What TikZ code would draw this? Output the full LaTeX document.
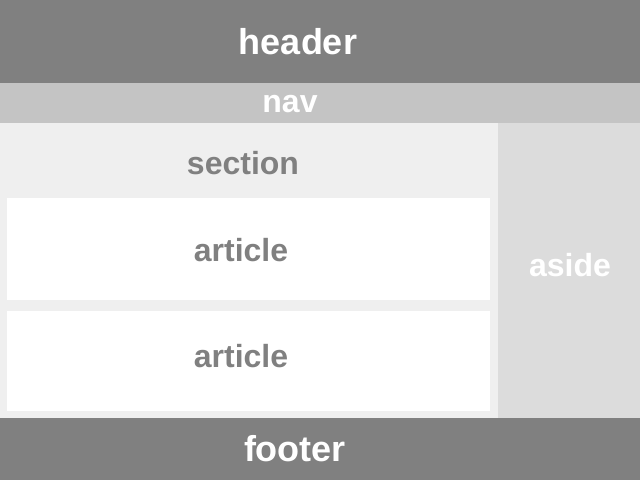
\documentclass[tikz,border=0pt]{standalone}
\usepackage{fontspec}
\setmainfont{Liberation Sans}
\definecolor{bardark}{HTML}{808080}
\definecolor{navgray}{HTML}{C4C4C4}
\definecolor{sectiongray}{HTML}{EFEFEF}
\definecolor{asidegray}{HTML}{DCDCDC}
\begin{document}
\begin{tikzpicture}[x=1pt,y=-1pt,
    bigtxt/.style={anchor=base,inner sep=0pt,text=white,font=\bfseries\fontsize{36}{36}\selectfont},
    smalltxt/.style={anchor=base,inner sep=0pt,text=bardark,font=\bfseries\fontsize{32}{32}\selectfont}]
      \useasboundingbox (0,0) rectangle (640,480);

      % header und nav
      \fill[bardark] (0,0) rectangle (640,83);
      \fill[navgray] (0,83) rectangle (640,123);
      \node[bigtxt] (header) at (298,54) {header};
      \node[smalltxt,text=white] (nav) at (290,112) {nav};

      % section mit zwei article
      \fill[sectiongray] (0,123) rectangle (498,418);
      \node[smalltxt] (section) at (243,174) {section};
      \fill[white] (7,198) rectangle (490,300);
      \node[smalltxt] (article1) at (241,261) {article};
      \fill[white] (7,311) rectangle (490,411);
      \node[smalltxt] (article2) at (241,367) {article};

      % aside rechts
      \fill[asidegray] (498,123) rectangle (640,418);
      \node[smalltxt,text=white] (aside) at (570,276) {aside};

      % footer
      \fill[bardark] (0,418) rectangle (640,480);
      \node[bigtxt] (footer) at (295,461) {footer};
    \end{tikzpicture}
\end{document}
